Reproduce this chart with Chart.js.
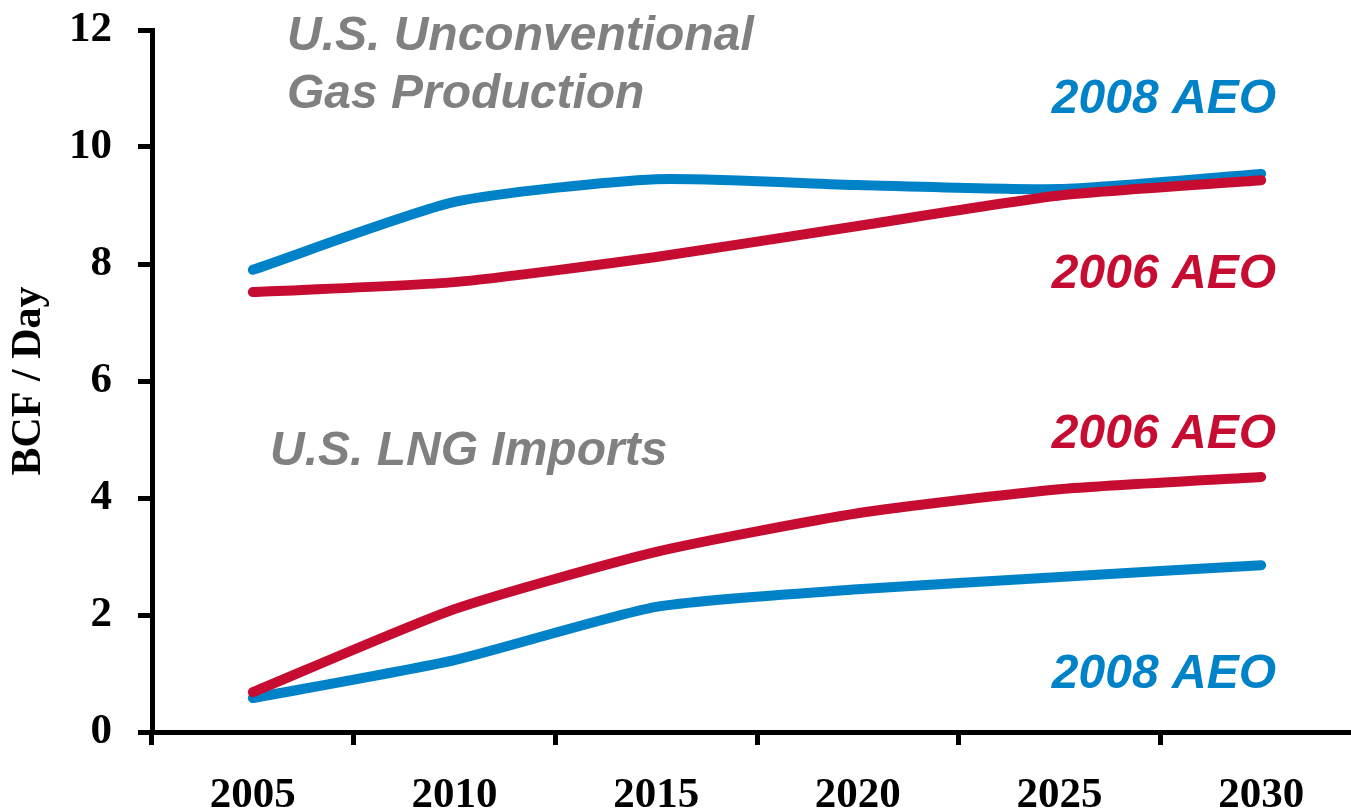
<!DOCTYPE html>
<html>
<head>
<meta charset="utf-8">
<script src="https://cdn.jsdelivr.net/npm/chart.js@4"></script>
<style>
  html, body { margin: 0; padding: 0; background: #ffffff; overflow: hidden; }
  #wrap { width: 1362px; height: 810px; }
</style>
</head>
<body>
<div id="wrap"><canvas id="c" width="1362" height="810"></canvas></div>
<script>
const years = ['2005', '2010', '2015', '2020', '2025', '2030'];
const unconv2008 = [7.90, 9.06, 9.45, 9.35, 9.28, 9.54];
const unconv2006 = [7.52, 7.69, 8.12, 8.65, 9.17, 9.43];
const lng2006 = [0.68, 2.10, 3.08, 3.74, 4.15, 4.36];
const lng2008 = [0.58, 1.23, 2.14, 2.44, 2.65, 2.85];
const yTicks = [0, 2, 4, 6, 8, 10, 12];

const BLUE = '#0082C8';
const RED = '#C60C30';
const GRAY = '#808080';

const notes = [
  { text: 'U.S. Unconventional', x: 287, y: 50, color: GRAY, align: 'left' },
  { text: 'Gas Production', x: 287, y: 108, color: GRAY, align: 'left' },
  { text: 'U.S. LNG Imports', x: 270, y: 465, color: GRAY, align: 'left' },
  { text: '2008 AEO', x: 1276, y: 113, color: BLUE, align: 'right' },
  { text: '2006 AEO', x: 1276, y: 288, color: RED, align: 'right' },
  { text: '2006 AEO', x: 1276, y: 448, color: RED, align: 'right' },
  { text: '2008 AEO', x: 1276, y: 688, color: BLUE, align: 'right' }
];

const notesPlugin = {
  id: 'notes',
  afterDraw(chart) {
    const ctx = chart.ctx;
    ctx.save();
    ctx.font = 'italic bold 48px "Liberation Sans", Arial, sans-serif';
    ctx.textBaseline = 'alphabetic';
    notes.forEach(n => {
      ctx.fillStyle = n.color;
      ctx.textAlign = n.align;
      ctx.fillText(n.text, n.x, n.y);
    });
    ctx.restore();
  }
};

function line(data, color) {
  return {
    data: data,
    borderColor: color,
    backgroundColor: color,
    borderWidth: 10,
    borderCapStyle: 'round',
    borderJoinStyle: 'round',
    pointRadius: 0,
    tension: 0.2,
    fill: false
  };
}

const tickFont = { family: '"Liberation Serif", "Times New Roman", serif', size: 43, weight: 'bold', lineHeight: 1.2 };

new Chart(document.getElementById('c'), {
  type: 'line',
  data: {
    labels: years,
    datasets: [
      line(unconv2006, RED),
      line(unconv2008, BLUE),
      line(lng2006, RED),
      line(lng2008, BLUE)
    ]
  },
  options: {
    responsive: false,
    animation: false,
    devicePixelRatio: 1,
    layout: { padding: { top: 30, right: 0, bottom: 0, left: 0 } },
    plugins: {
      legend: { display: false },
      tooltip: { enabled: false },
      title: { display: false }
    },
    scales: {
      x: {
        type: 'category',
        offset: true,
        grid: {
          offset: true,
          drawOnChartArea: false,
          drawTicks: true,
          tickLength: 13,
          tickWidth: 5,
          tickColor: '#000'
        },
        border: { display: true, color: '#000', width: 5 },
        ticks: {
          color: '#000',
          padding: 25,
          maxRotation: 0,
          autoSkip: false,
          font: tickFont
        },
        afterFit(s) { s.height = 78; s.paddingLeft = 0; s.paddingRight = 0; }
      },
      y: {
        min: 0,
        max: 12,
        afterBuildTicks(s) { s.ticks = yTicks.map(v => ({ value: v })); },
        grid: {
          drawOnChartArea: false,
          drawTicks: true,
          tickLength: 14,
          tickWidth: 5,
          tickColor: '#000'
        },
        border: { display: true, color: '#000', width: 5 },
        ticks: {
          color: '#000',
          padding: 26,
          font: tickFont
        },
        title: {
          display: true,
          text: 'BCF / Day',
          color: '#000',
          padding: { top: 4, bottom: 0 },
          font: { family: '"Liberation Serif", "Times New Roman", serif', size: 42, weight: 'bold', lineHeight: 1.2 }
        },
        afterFit(s) { s.width = 152; s.paddingTop = 0; s.paddingBottom = 0; }
      }
    }
  },
  plugins: [notesPlugin]
});
</script>
</body>
</html>
